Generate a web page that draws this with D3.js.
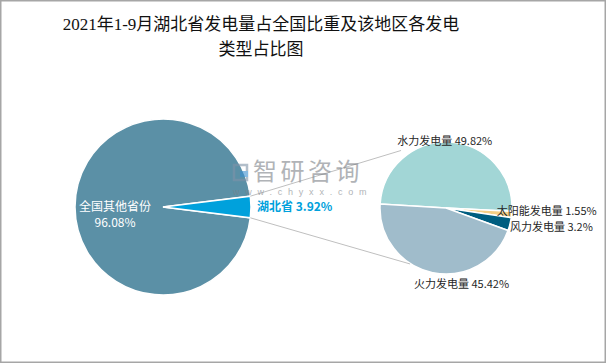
<!DOCTYPE html>
<html>
<head>
<meta charset="utf-8">
<script src="https://cdn.jsdelivr.net/npm/d3@7"></script>
<style>
  body { margin: 0; background: #fff; }
  text { font-family: "Noto Sans CJK SC", "Noto Sans", sans-serif; }
</style>
</head>
<body>
<div id="chart"></div>
<script>
// data
var titleLines = ["2021年1-9月湖北省发电量占全国比重及该地区各发电", "类型占比图"];
var regions = ["全国其他省份", "湖北省"];
var regionShare = [96.08, 3.92];
var genTypes = ["水力发电量", "太阳能发电量", "风力发电量", "火力发电量"];
var genShare = [49.82, 1.55, 3.2, 45.42];

var W = 606, H = 363;
var chart = {};
chart.left = { cx: 163, cy: 207, r: 88 };
chart.right = { cx: 446, cy: 208, r: 66 };
chart.regionColor = ["#5b90a6", "#00a1dc"];
chart.genColor = ["#a2d6d6", "#f6cf86", "#005e80", "#a0bccb"];
// label nudges for the right pie: [radius, dx, dy, anchor]
chart.genLabel = [[67, -5, 0, "middle"], [60, -9, -3, "start"], [66, 0, 3, "start"], [76, 31, 2, "middle"]];

var svg = d3.select("#chart").append("svg")
  .attr("width", W).attr("height", H);

svg.append("rect")
  .attr("x", 0.75).attr("y", 0.75)
  .attr("width", W - 1.5).attr("height", H - 1.5)
  .attr("fill", "#fff").attr("stroke", "#a6a6a6").attr("stroke-width", 1.5);

// title
svg.append("g").selectAll("text")
  .data(titleLines)
  .enter().append("text")
    .attr("x", 261)
    .attr("y", function(d, i) { return 30 + i * 25; })
    .attr("text-anchor", "middle")
    .style("font-family", "'Liberation Serif', 'Noto Sans CJK SC', serif")
    .style("font-size", "17px")
    .style("fill", "#111")
    .text(function(d) { return d; });

// left pie
var hubeiAngle = regionShare[1] / d3.sum(regionShare) * 2 * Math.PI;
var leftStart = Math.PI / 2 + hubeiAngle / 2;
var leftPie = d3.pie().sort(null)
  .startAngle(leftStart).endAngle(leftStart + 2 * Math.PI)
  .value(function(d) { return d; });
var leftArc = d3.arc().innerRadius(0).outerRadius(chart.left.r);
var leftData = leftPie(regionShare);

var gl = svg.append("g")
  .attr("transform", "translate(" + chart.left.cx + "," + chart.left.cy + ")");
gl.selectAll("path")
  .data(leftData)
  .enter().append("path")
    .attr("d", leftArc)
    .style("fill", function(d, i) { return chart.regionColor[i]; })
    .style("stroke", "#fff")
    .style("stroke-width", 1.5);

// right pie
var rightStart = 273.5 * Math.PI / 180;
var rightPie = d3.pie().sort(null)
  .startAngle(rightStart).endAngle(rightStart + 2 * Math.PI)
  .value(function(d) { return d; });
var rightArc = d3.arc().innerRadius(0).outerRadius(chart.right.r);
var rightData = rightPie(genShare);

var gr = svg.append("g")
  .attr("transform", "translate(" + chart.right.cx + "," + chart.right.cy + ")");
gr.selectAll("path")
  .data(rightData)
  .enter().append("path")
    .attr("d", rightArc)
    .style("fill", function(d, i) { return chart.genColor[i]; })
    .style("stroke", "#fff")
    .style("stroke-width", 1.5);

// connector lines from hubei slice to the second pie
function polar(c, r, a) {
  return [c.cx + r * Math.sin(a), c.cy - r * Math.cos(a)];
}
var hub = leftData[1];
var conn = [
  [polar(chart.left, chart.left.r, hub.startAngle), polar(chart.right, 73, -38 * Math.PI / 180)],
  [polar(chart.left, chart.left.r, hub.endAngle), polar(chart.right, chart.right.r + 0.5, 212.7 * Math.PI / 180)]
];
svg.append("g").selectAll("line")
  .data(conn)
  .enter().append("line")
    .attr("x1", function(d) { return d[0][0]; })
    .attr("y1", function(d) { return d[0][1]; })
    .attr("x2", function(d) { return d[1][0]; })
    .attr("y2", function(d) { return d[1][1]; })
    .style("stroke", "#bfbfbf")
    .style("stroke-width", 1);

// watermark
var wm = svg.append("g").style("opacity", 0.6);
wm.append("rect").attr("x", 234).attr("y", 165).attr("width", 13).attr("height", 15)
  .style("fill", "none").style("stroke", "#7f93a8").style("stroke-width", 2.5);
wm.append("rect").attr("x", 240).attr("y", 171).attr("width", 8).attr("height", 6)
  .style("fill", "#3a8fd0");
wm.append("text").attr("x", 253).attr("y", 180)
  .style("font-size", "24px").style("letter-spacing", "3.5px").style("fill", "#7d8288")
  .text("智研咨询");
wm.append("text").attr("x", 233).attr("y", 195)
  .style("font-family", "'Liberation Sans', sans-serif")
  .style("font-size", "9px").style("letter-spacing", "5.8px").style("fill", "#7d8288")
  .text("www.chyxx.com");

// left labels
var otherPos = d3.arc().innerRadius(48).outerRadius(48).centroid(leftData[0]);
var ot = svg.append("text")
  .attr("transform", "translate(" + (chart.left.cx + otherPos[0]) + "," + (chart.left.cy + otherPos[1] + 8) + ")")
  .attr("text-anchor", "middle")
  .style("font-size", "12px").style("fill", "#fff");
ot.append("tspan").attr("x", 0).attr("dy", "-0.35em").text(regions[0]);
ot.append("tspan").attr("x", 0).attr("dy", "16px")
  .text(regionShare[0].toFixed(2) + "%");

var hubPos = d3.arc().innerRadius(94).outerRadius(94).centroid(hub);
svg.append("text")
  .attr("x", chart.left.cx + hubPos[0])
  .attr("y", chart.left.cy + hubPos[1] + 4)
  .style("font-size", "12px").style("font-weight", "bold").style("fill", "#00a1dc")
  .text(regions[1] + " " + regionShare[1] + "%");

// right labels
svg.append("g").selectAll("text")
  .data(rightData)
  .enter().append("text")
    .attr("x", function(d, i) {
      var L = chart.genLabel[i];
      return polar(chart.right, L[0], (d.startAngle + d.endAngle) / 2)[0] + L[1];
    })
    .attr("y", function(d, i) {
      var L = chart.genLabel[i];
      return polar(chart.right, L[0], (d.startAngle + d.endAngle) / 2)[1] + L[2] + 4;
    })
    .attr("text-anchor", function(d, i) { return chart.genLabel[i][3]; })
    .style("font-size", "11px").style("fill", "#262626")
    .text(function(d, i) { return genTypes[i] + " " + genShare[i] + "%"; });
</script>
</body>
</html>
